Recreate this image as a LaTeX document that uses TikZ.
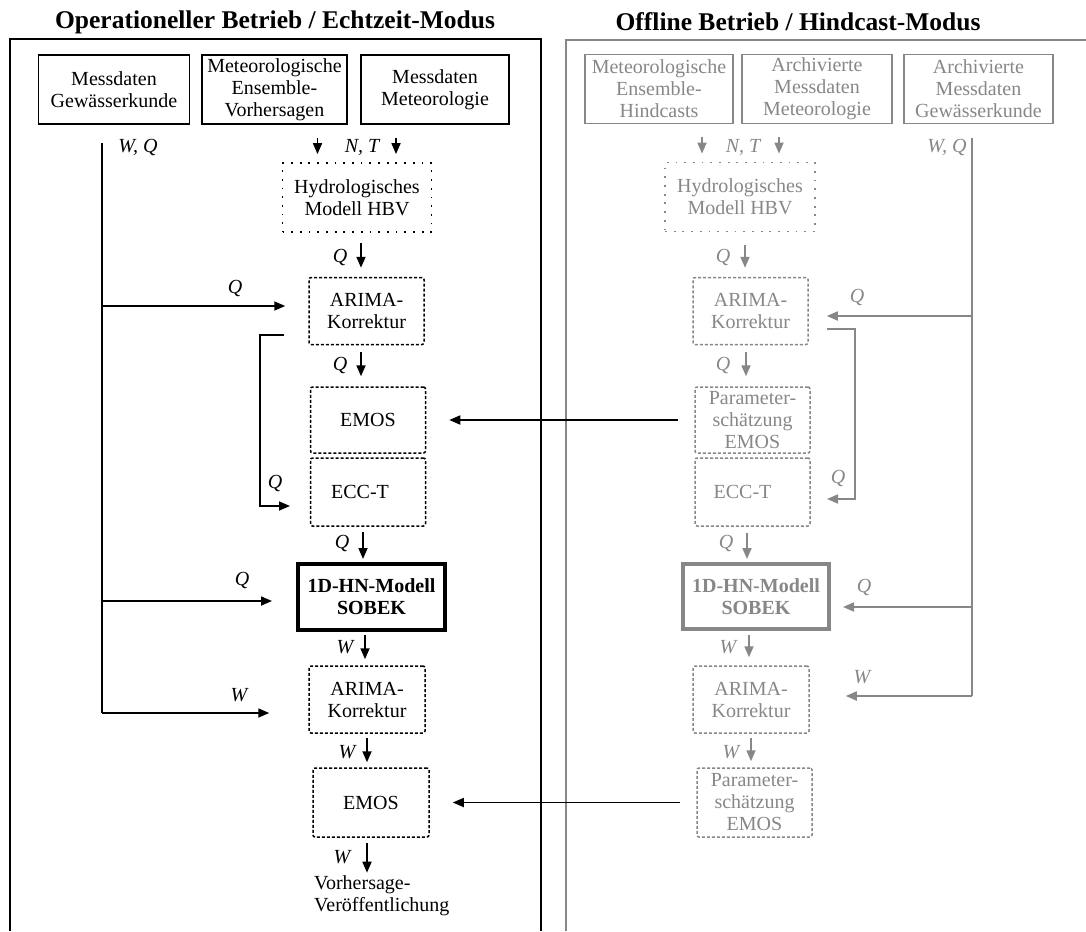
\documentclass[tikz,border=0pt]{standalone}
\usepackage{fontspec}
\setmainfont{Liberation Serif}
\usetikzlibrary{arrows.meta}
\definecolor{gr}{RGB}{135,135,135}
\begin{document}
\begin{tikzpicture}[x=1pt,y=-1pt,
  every node/.style={font=\fontsize{20}{22}\selectfont, align=center, inner sep=0pt},
  title/.style={font=\fontsize{25.5}{28}\selectfont\bfseries},
  srcbox/.style={draw, line width=1.7pt, minimum height=69pt},
  dbox/.style={draw, line width=1.5pt, dash pattern=on 3pt off 2pt, rounded corners=2pt, minimum width=116pt, minimum height=67pt},
  hbvbox/.style={draw, line width=1.8pt, dash pattern=on 1.8pt off 6.9pt, minimum width=149pt, minimum height=69pt},
  hnbox/.style={draw, line width=4pt, minimum width=147pt, minimum height=66pt, font=\fontsize{20}{22}\selectfont\bfseries},
  flab/.style={font=\fontsize{20}{22}\selectfont\itshape},
  conn/.style={line width=1.7pt},
  arr/.style={conn, -{Triangle[length=11pt,width=9pt]}}
]
\useasboundingbox (0,0) rectangle (1086,931);

% ---------- frames and headings ----------
\draw[line width=2pt] (10,931) -- (10,39) -- (541,39) -- (541,931);
\draw[line width=2pt, gr] (566,931) -- (566,40) -- (1086,40);
\node[title] (tl) at (275,22) {Operationeller Betrieb / Echtzeit-Modus};
\node[title] (tr) at (798,22) {Offline Betrieb / Hindcast-Modus};

% ---------- operational chain ----------
\node[srcbox, minimum width=151pt] (lmg) at (114,89.5) {Messdaten\\Gewässerkunde};
\node[srcbox, minimum width=145pt] (lme) at (274.5,89.5) {Meteorologische\\Ensemble-\\Vorhersagen};
\node[srcbox, minimum width=148pt] (lmm) at (435,89.5) {Messdaten\\Meteorologie};
\node[hbvbox] (lhbv) at (357,197.5) {Hydrologisches\\Modell HBV};
\node[dbox, minimum width=115pt] (la1) at (366.5,311) {ARIMA-\\Korrektur};
\node[dbox, minimum width=115pt, minimum height=66pt] (lemos) at (368,420) {EMOS};
\node[dbox, minimum width=115pt, minimum height=68pt] (lecc) at (368,492) {ECC-T\hspace*{16pt}};
\node[hnbox] (lhn) at (371.5,597) {1D-HN-Modell\\SOBEK};
\node[dbox] (la2) at (367,699.5) {ARIMA-\\Korrektur};
\node[dbox, minimum height=69pt] (lemos2) at (371,802.5) {EMOS};
\node[align=left, anchor=west] (lout) at (314,896) {Vorhersage-\\Veröffentlichung};

% inputs N, T
\coordinate (ln1) at (317.5,138);
\coordinate (ln2) at (396,138);
\draw[arr, shorten >=8pt] (ln1) -- (ln1 |- lhbv.north);
\draw[arr, shorten >=8pt] (ln2) -- (ln2 |- lhbv.north);
\node[flab] (lnt) at (362,147) {N, T};

% main flow
\coordinate (lf1) at (361,243);
\coordinate (lf2) at (361,352);
\coordinate (lf3) at (363,532);
\coordinate (lf4) at (365,635);
\coordinate (lf5) at (367,738);
\coordinate (lf6) at (367,843);
\draw[arr, shorten >=9pt] (lf1) -- (lf1 |- la1.north);
\draw[arr, shorten >=10pt] (lf2) -- (lf2 |- lemos.north);
\draw[arr, shorten >=3pt] (lf3) -- (lf3 |- lhn.north);
\draw[arr, shorten >=6pt] (lf4) -- (lf4 |- la2.north);
\draw[arr, shorten >=5pt] (lf5) -- (lf5 |- lemos2.north);
\draw[arr, shorten >=3pt] (lf6) -- (lf6 |- lout.north);
\node[flab] at (340,257) {Q};
\node[flab] at (340,365) {Q};
\node[flab] at (342,543) {Q};
\node[flab] at (345,647) {W};
\node[flab] at (347,752) {W};
\node[flab] at (342,857) {W};

% gauge data W, Q
\coordinate (lv0) at (102,143);
\coordinate (lv1) at (102,713);
\draw[conn] (lv0) -- (lv1);
\node[flab] (lwq) at (138,147) {W, Q};
\coordinate (lq1) at (102,306);
\coordinate (lq2) at (102,601);
\draw[arr, shorten >=23pt] (lq1) -- (lq1 -| la1.west);
\draw[arr, shorten >=24pt] (lq2) -- (lq2 -| lhn.west);
\draw[arr, shorten >=39pt] (lv1) -- (lv1 -| la2.west);
\node[flab] at (235,288) {Q};
\node[flab] at (242,580) {Q};
\node[flab] at (239,695) {W};

% corrected runoff to ECC-T
\coordinate (lb0) at (284,335);
\coordinate (lb1) at (290,506);
\draw[arr] (lb0) -- ++(-24,0) |- (lb1);
\node[flab] at (275,483) {Q};

% ---------- hindcast chain ----------
\begin{scope}[gr]
\node[srcbox, minimum width=148pt] (rmh) at (659,89) {Meteorologische\\Ensemble-\\Hindcasts};
\node[srcbox, minimum width=150pt] (rma) at (817,89) {Archivierte\\Messdaten\\Meteorologie};
\node[srcbox, minimum width=149pt] (rag) at (978.5,89) {Archivierte\\Messdaten\\Gewässerkunde};
\node[hbvbox, minimum width=150pt] (rhbv) at (740,197) {Hydrologisches\\Modell HBV};
\node[dbox, minimum width=115pt] (ra1) at (750.5,311) {ARIMA-\\Korrektur};
\node[dbox, minimum width=115pt, minimum height=66pt] (rpe1) at (752.5,420) {Parameter-\\schätzung\\EMOS};
\node[dbox, minimum width=115pt, minimum height=68pt] (recc) at (752.5,492) {ECC-T\hspace*{20pt}};
\node[hnbox, minimum width=146pt, minimum height=65pt] (rhn) at (756,596.5) {1D-HN-Modell\\SOBEK};
\node[dbox] (ra2) at (751,699.5) {ARIMA-\\Korrektur};
\node[dbox, minimum width=115pt, minimum height=69pt] (rpe2) at (754.5,802.5) {Parameter-\\schätzung\\EMOS};

\node[flab] (rnt) at (743,147) {N, T};
\node[flab] (rwq) at (947,148) {W, Q};
\node[flab] at (723,257) {Q};
\node[flab] at (723,365) {Q};
\node[flab] at (726,543) {Q};
\node[flab] at (728,647) {W};
\node[flab] at (731,752) {W};
\node[flab] at (857,297) {Q};
\node[flab] at (838,478) {Q};
\node[flab] at (864,587) {Q};
\node[flab] at (862,677) {W};

\coordinate (rn1) at (702,137);
\coordinate (rn2) at (779,137);
\draw[arr, shorten >=8pt] (rn1) -- (rn1 |- rhbv.north);
\draw[arr, shorten >=8pt] (rn2) -- (rn2 |- rhbv.north);

\coordinate (rf1) at (745,245);
\coordinate (rf2) at (746,352);
\coordinate (rf3) at (747,533);
\coordinate (rf4) at (749,635);
\coordinate (rf5) at (751,738);
\draw[arr, shorten >=9pt] (rf1) -- (rf1 |- ra1.north);
\draw[arr, shorten >=10pt] (rf2) -- (rf2 |- rpe1.north);
\draw[arr, shorten >=3pt] (rf3) -- (rf3 |- rhn.north);
\draw[arr, shorten >=8pt] (rf4) -- (rf4 |- ra2.north);
\draw[arr, shorten >=6pt] (rf5) -- (rf5 |- rpe2.north);

\coordinate (rv0) at (972,138);
\coordinate (rv1) at (972,696);
\draw[conn] (rv0) -- (rv1);
\coordinate (rq1) at (972,316);
\coordinate (rq2) at (972,607);
\draw[arr, shorten >=18pt] (rq1) -- (rq1 -| ra1.east);
\draw[arr, shorten >=12pt] (rq2) -- (rq2 -| rhn.east);
\draw[arr, shorten >=36pt] (rv1) -- (rv1 -| ra2.east);

\coordinate (rb0) at (827,329);
\coordinate (rb1) at (827,499);
\draw[arr] (rb0) -- ++(28,0) |- (rb1);
\end{scope}

% estimated EMOS parameters feed the operational chain
\draw[arr, shorten <=16pt, shorten >=23pt] (rpe1.west) -- (lemos.east);
\draw[arr, shorten <=16pt, shorten >=23pt] (rpe2.west) -- (lemos2.east);
\end{tikzpicture}
\end{document}
